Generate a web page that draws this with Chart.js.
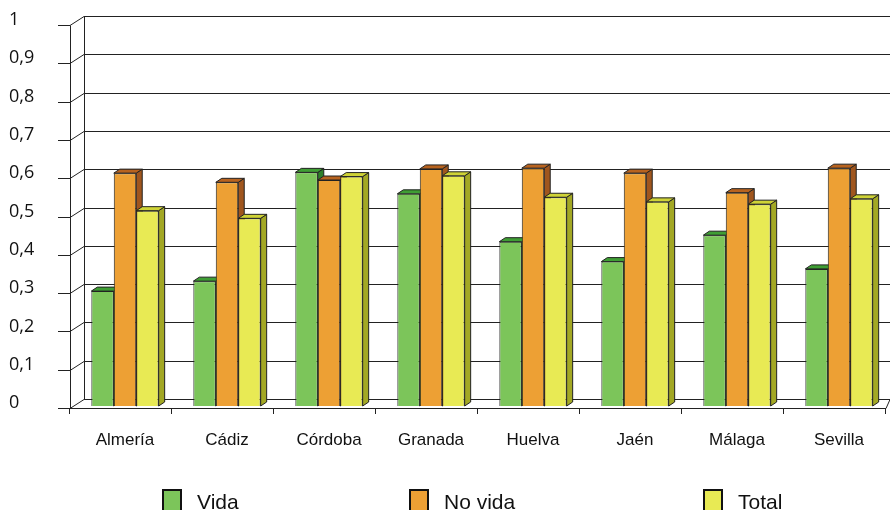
<!DOCTYPE html>
<html>
<head>
<meta charset="utf-8">
<script src="https://cdn.jsdelivr.net/npm/chart.js@4.4.1/dist/chart.umd.min.js"></script>
<style>
  body { margin: 0; background: #fff; }
  canvas { display: block; }
</style>
</head>
<body>
<canvas id="chart" width="890" height="510"></canvas>
<script>
// Data
const categories = ["Almería", "Cádiz", "Córdoba", "Granada", "Huelva", "Jaén", "Málaga", "Sevilla"];
const seriesNames = ["Vida", "No vida", "Total"];
const vida = [0.30, 0.326, 0.61, 0.554, 0.429, 0.377, 0.446, 0.358];
const noVida = [0.608, 0.584, 0.59, 0.619, 0.621, 0.608, 0.557, 0.621];
const total = [0.51, 0.49, 0.599, 0.601, 0.545, 0.533, 0.527, 0.541];

// colours: front, top, side
const shades = [
  { front: "#7cc55a", top: "#3f9e34", side: "#2f7f2a" },
  { front: "#eda034", top: "#b8631f", side: "#a0561e" },
  { front: "#e8ea54", top: "#cfd336", side: "#a3a824" }
];

const DX = 6, DY = 4; // bar depth
const lineCol = "#222";

// back wall, gridlines and front axis
const wallPlugin = {
  id: "wall",
  beforeDatasetsDraw(chart) {
    const ctx = chart.ctx;
    const y = chart.scales.y;
    const x = chart.scales.x;
    const area = chart.chartArea;
    const fx = area.left - 4, bx = area.left + 10;
    const ticks = y.ticks.map(t => t.value);
    ctx.save();
    ctx.lineWidth = 1;
    ctx.strokeStyle = lineCol;
    ticks.forEach(v => {
      const py = Math.round(y.getPixelForValue(v));
      // back wall gridline
      ctx.beginPath();
      ctx.moveTo(bx, py - 6.5);
      ctx.lineTo(area.right, py - 6.5);
      ctx.stroke();
      // diagonal to front axis
      ctx.beginPath();
      ctx.moveTo(fx, py + 2.5);
      ctx.lineTo(bx, py - 6.5);
      ctx.stroke();
      // tick mark
      ctx.beginPath();
      ctx.moveTo(fx - 12, py + 2.5);
      ctx.lineTo(fx, py + 2.5);
      ctx.stroke();
    });
    const top = Math.round(y.getPixelForValue(1));
    const bot = Math.round(y.getPixelForValue(0));
    // back wall left edge
    ctx.beginPath();
    ctx.moveTo(bx + 0.5, top - 6.5);
    ctx.lineTo(bx + 0.5, bot - 6.5);
    ctx.stroke();
    // front axis
    ctx.beginPath();
    ctx.moveTo(fx + 0.5, top + 2.5);
    ctx.lineTo(fx + 0.5, bot + 2.5);
    ctx.stroke();
    // front floor line
    ctx.beginPath();
    ctx.moveTo(fx, bot + 2.5);
    ctx.lineTo(area.right - 4, bot + 2.5);
    ctx.lineTo(area.right, bot - 6.5);
    ctx.stroke();
    // category ticks
    for (let i = 0; i <= categories.length; i++) {
      const px = Math.round(x.getPixelForValue(i - 0.5)) - 4.5;
      ctx.beginPath();
      ctx.moveTo(px, bot + 2);
      ctx.lineTo(px, bot + 8);
      ctx.stroke();
    }
    // 3D faces behind the bar fronts
    chart.data.datasets.forEach((ds, di) => {
      const meta = chart.getDatasetMeta(di);
      meta.data.forEach(bar => {
        const p = bar.getProps(["x", "y", "base", "width"], true);
        const l = p.x - p.width / 2, r = p.x + p.width / 2;
        ctx.strokeStyle = lineCol;
        ctx.lineWidth = 1;
        // side
        ctx.fillStyle = shades[di].side;
        ctx.beginPath();
        ctx.moveTo(r, p.y);
        ctx.lineTo(r + DX, p.y - DY);
        ctx.lineTo(r + DX, p.base - DY);
        ctx.lineTo(r, p.base);
        ctx.closePath();
        ctx.fill();
        ctx.stroke();
        // top
        ctx.fillStyle = shades[di].top;
        ctx.beginPath();
        ctx.moveTo(l, p.y);
        ctx.lineTo(l + DX, p.y - DY);
        ctx.lineTo(r + DX, p.y - DY);
        ctx.lineTo(r, p.y);
        ctx.closePath();
        ctx.fill();
        ctx.stroke();
      });
    });
    ctx.restore();
  }
};

// legend spread along the bottom
const legendPlugin = {
  id: "bottomLegend",
  afterDraw(chart) {
    const ctx = chart.ctx;
    const boxX = [162, 409, 703];
    ctx.save();
    ctx.font = "21px 'Liberation Sans', Arial, sans-serif";
    ctx.textBaseline = "alphabetic";
    ctx.fillStyle = "#111";
    chart.data.datasets.forEach((ds, i) => {
      ctx.fillStyle = ds.backgroundColor;
      ctx.strokeStyle = "#111";
      ctx.lineWidth = 2;
      ctx.fillRect(boxX[i] + 1, 490, 18, 22);
      ctx.strokeRect(boxX[i] + 1, 490, 18, 22);
      ctx.fillStyle = "#111";
      ctx.fillText(ds.label, boxX[i] + 35, 509);
    });
    ctx.restore();
  }
};

const ctx = document.getElementById("chart").getContext("2d");
const chart = new Chart(ctx, {
  type: "bar",
  data: {
    labels: categories,
    datasets: [
      { label: seriesNames[0], data: vida },
      { label: seriesNames[1], data: noVida },
      { label: seriesNames[2], data: total }
    ].map((d, i) => ({
      ...d,
      backgroundColor: shades[i].front,
      borderColor: lineCol,
      borderWidth: 1,
      categoryPercentage: 0.66,
      barPercentage: 1
    }))
  },
  options: {
    responsive: false,
    devicePixelRatio: 1,
    animation: false,
    layout: { padding: { left: 9, right: 0, top: 23, bottom: 0 } },
    plugins: {
      legend: { display: false },
      tooltip: { enabled: false }
    },
    scales: {
      x: {
        grid: { display: false, drawTicks: false },
        border: { display: false },
        ticks: {
          color: "#111",
          font: { family: "'Liberation Sans', Arial, sans-serif", size: 17 },
          padding: 24,
          maxRotation: 0,
          autoSkip: false
        },
        afterFit: s => { s.height = 104; }
      },
      y: {
        min: 0,
        max: 1,
        grid: { display: false, drawTicks: false },
        border: { display: false },
        ticks: {
          stepSize: 0.1,
          color: "#111",
          crossAlign: "far",
          labelOffset: -3,
          font: { family: "'Open Sans', sans-serif", size: 18 },
          callback: v => String(Number(v.toFixed(1))).replace(".", ",")
        },
        afterFit: s => { s.width = 65; }
      }
    }
  },
  plugins: [wallPlugin, legendPlugin]
});
</script>
</body>
</html>
